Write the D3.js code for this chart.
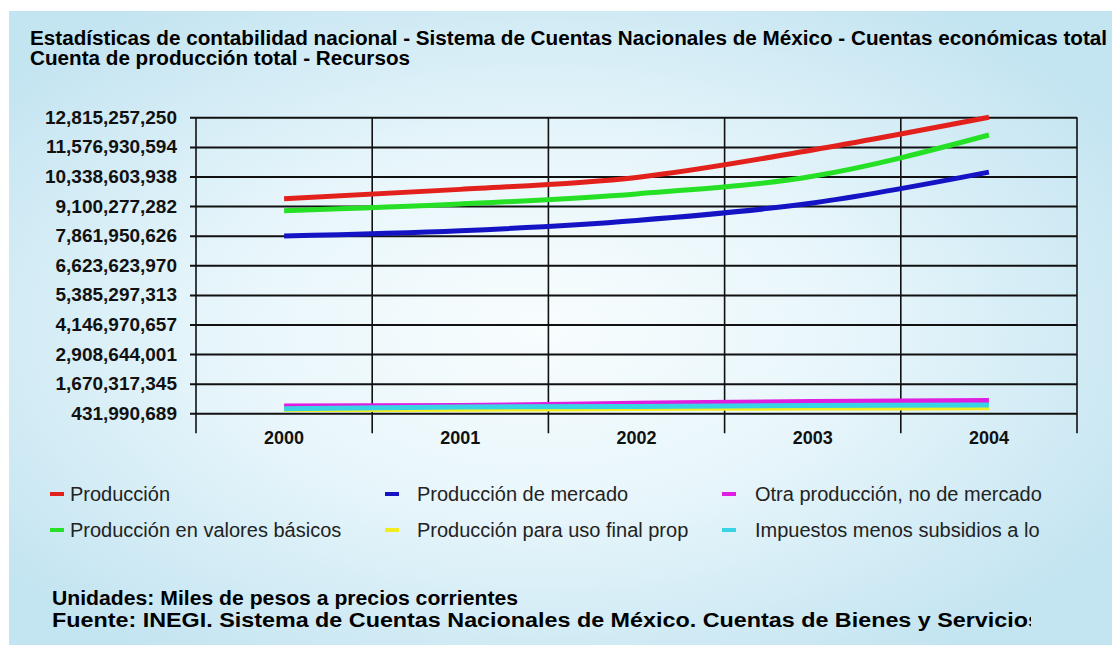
<!DOCTYPE html>
<html>
<head>
<meta charset="utf-8">
<script src="https://cdn.jsdelivr.net/npm/d3@7"></script>
<style>
  body { margin: 0; background: #fff; }
  svg { display: block; font-family: "Liberation Sans", Arial, sans-serif; }
</style>
</head>
<body>
<div id="chart"></div>
<script>
"use strict";

/*** Data (miles de pesos) */
const years = ["2000", "2001", "2002", "2003", "2004"];

const produccion     = [9410000000, 9800000000, 10300000000, 11450000000, 12815257250];
const valoresBasicos = [8910000000, 9190000000, 9610000000, 10350000000, 12075000000];
const mercado        = [7850000000, 8070000000, 8500000000, 9230000000, 10520000000];
const otra           = [737000000, 758000000, 850000000, 925000000, 967000000];
const impuestos      = [620000000, 700000000, 720000000, 760000000, 780000000];
const usoFinal       = [590000000, 600000000, 630000000, 654000000, 660000000];

const yTickLabels = ["431,990,689", "1,670,317,345", "2,908,644,001", "4,146,970,657",
  "5,385,297,313", "6,623,623,970", "7,861,950,626", "9,100,277,282",
  "10,338,603,938", "11,576,930,594", "12,815,257,250"];

const seriesNames = ["Producción", "Producción en valores básicos", "Producción de mercado",
  "Producción para uso final prop", "Otra producción, no de mercado", "Impuestos menos subsidios a lo"];
const seriesColors = ["#e3211c", "#25e025", "#1414c4", "#f2ee1e", "#e01ee0", "#38d4e6"];
const seriesValues = [produccion, valoresBasicos, mercado, usoFinal, otra, impuestos];

const titleLines = ["Estadísticas de contabilidad nacional - Sistema de Cuentas Nacionales de México - Cuentas económicas total",
  "Cuenta de producción total - Recursos"];
const footLines = ["Unidades: Miles de pesos a precios corrientes",
  "Fuente: INEGI. Sistema de Cuentas Nacionales de México. Cuentas de Bienes y Servicios"];

/*** Layout */
const w = 1112;
const h = 645;
const plot = {left: 196, right: 1077, top: 117.3, bottom: 413.3};
const titleWidths = [1077, 380]; // widths of the title lines in the picture
const footWidths = [466, 989];

const svg = d3.select("#chart")
  .append("svg")
  .attr("width", w)
  .attr("height", h);

/* background panel */
const defs = svg.append("defs");
const grad = defs.append("radialGradient")
  .attr("id", "bg")
  .attr("cx", "48%").attr("cy", "50%").attr("r", "62%");
grad.append("stop").attr("offset", "0%").attr("stop-color", "#f8fdfe");
grad.append("stop").attr("offset", "45%").attr("stop-color", "#e8f6fb");
grad.append("stop").attr("offset", "100%").attr("stop-color", "#c3e4f1");

defs.append("clipPath").attr("id", "footClip")
  .append("rect").attr("x", 0).attr("y", 0).attr("width", 1031).attr("height", h);

svg.append("rect")
  .attr("x", 9).attr("y", 11)
  .attr("width", w - 9).attr("height", h - 11)
  .attr("fill", "url(#bg)");

/* title */
svg.append("g")
  .selectAll("text")
  .data(titleLines)
  .enter()
  .append("text")
  .attr("x", 30)
  .attr("y", (d, i) => 45 + i * 20)
  .attr("font-size", 20)
  .attr("font-weight", "bold")
  .attr("fill", "#000")
  .attr("textLength", (d, i) => titleWidths[i])
  .attr("lengthAdjust", "spacingAndGlyphs")
  .text(d => d);

/*** Scales */
const yValues = yTickLabels.map(s => +s.replace(/,/g, ""));

const x = d3.scaleBand()
  .domain(years)
  .range([plot.left, plot.right]);

const y = d3.scaleLinear()
  .domain([yValues[0], yValues[yValues.length - 1]])
  .range([plot.bottom, plot.top]);

/* horizontal grid + y axis */
const yAxis = d3.axisLeft(y)
  .tickValues(yValues)
  .tickSize(-(plot.right - plot.left))
  .tickSizeOuter(0)
  .tickPadding(19)
  .tickFormat((d, i) => yTickLabels[i]);

const gy = svg.append("g")
  .attr("transform", "translate(" + plot.left + ",0)")
  .call(yAxis);
gy.select(".domain").remove();
gy.selectAll(".tick line")
  .attr("x1", -6)
  .attr("stroke", "#111")
  .attr("stroke-width", 2);
gy.selectAll(".tick text")
  .attr("font-family", "Liberation Sans, Arial, sans-serif")
  .attr("font-size", 19)
  .attr("font-weight", "bold")
  .attr("fill", "#111");

/* vertical grid + x axis */
const xEdges = years.map(d => x(d)).concat([plot.right]);
svg.append("g")
  .selectAll("line")
  .data(xEdges)
  .enter()
  .append("line")
  .attr("x1", d => d).attr("x2", d => d)
  .attr("y1", plot.top).attr("y2", plot.bottom + 20)
  .attr("stroke", "#111")
  .attr("stroke-width", 1.6);

svg.append("g")
  .selectAll("text")
  .data(years)
  .enter()
  .append("text")
  .attr("x", d => x(d) + x.bandwidth() / 2)
  .attr("y", plot.bottom + 31)
  .attr("text-anchor", "middle")
  .attr("font-size", 18)
  .attr("font-weight", "bold")
  .attr("fill", "#111")
  .text(d => d);

/*** Lines */
const line = d3.line()
  .x((d, i) => x(years[i]) + x.bandwidth() / 2)
  .y(d => y(d))
  .curve(d3.curveMonotoneX);

svg.append("g")
  .selectAll("path")
  .data(seriesValues)
  .enter()
  .append("path")
  .attr("d", d => line(d))
  .attr("fill", "none")
  .attr("stroke", (d, i) => seriesColors[i])
  .attr("stroke-width", 5);

/*** Legend: three columns, two rows */
const legendCols = [{mx: 50, tx: 70}, {mx: 385, tx: 417}, {mx: 722, tx: 755}];
const legendRows = [494, 530];
const legendOrder = [0, 2, 4, 1, 3, 5]; // row-wise as in the picture

const legend = svg.append("g")
  .selectAll("g")
  .data(legendOrder)
  .enter()
  .append("g")
  .attr("transform", (d, i) => "translate(0," + legendRows[Math.floor(i / 3)] + ")");

legend.append("rect")
  .attr("x", (d, i) => legendCols[i % 3].mx)
  .attr("y", -2)
  .attr("width", 14)
  .attr("height", 4)
  .attr("fill", d => seriesColors[d]);

legend.append("text")
  .attr("x", (d, i) => legendCols[i % 3].tx)
  .attr("y", 7)
  .attr("font-size", 20)
  .attr("fill", "#222")
  .text(d => seriesNames[d]);

/*** Footer */
svg.append("g")
  .attr("clip-path", "url(#footClip)")
  .selectAll("text")
  .data(footLines)
  .enter()
  .append("text")
  .attr("x", 52)
  .attr("y", (d, i) => 605 + i * 22)
  .attr("font-size", 20)
  .attr("font-weight", "bold")
  .attr("fill", "#000")
  .attr("textLength", (d, i) => footWidths[i])
  .attr("lengthAdjust", "spacingAndGlyphs")
  .text(d => d);
</script>
</body>
</html>
